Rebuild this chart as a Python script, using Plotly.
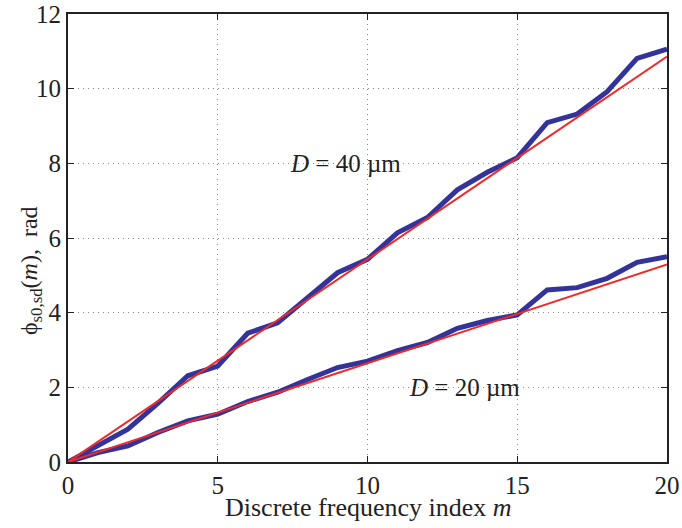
import plotly.graph_objects as go

m = list(range(21))
phi_40 = [0, 0.45, 0.88, 1.57, 2.31, 2.57, 3.45, 3.73, 4.38, 5.07, 5.43,
          6.14, 6.55, 7.29, 7.76, 8.15, 9.09, 9.32, 9.92, 10.81, 11.06]
phi_20 = [0, 0.25, 0.43, 0.79, 1.10, 1.28, 1.62, 1.87, 2.21, 2.53, 2.70,
          2.98, 3.20, 3.58, 3.79, 3.94, 4.61, 4.67, 4.92, 5.35, 5.50]
fit_m = [0, 20]
fit_40 = [0, 10.86]
fit_20 = [0, 5.29]

xticks = [0, 5, 10, 15, 20]
yticks = [0, 2, 4, 6, 8, 10, 12]

blue = "#333399"
red = "#ee2a2a"
font = "Liberation Serif, Times New Roman, serif"
ink = "#222"

fig = go.Figure()
for yv in (phi_40, phi_20):
    fig.add_trace(go.Scatter(x=m, y=yv, mode="lines",
                             line=dict(color=blue, width=5), showlegend=False))
for yv in (fit_40, fit_20):
    fig.add_trace(go.Scatter(x=fit_m, y=yv, mode="lines",
                             line=dict(color=red, width=2), showlegend=False))

fig.add_annotation(x=9.25, y=8.0, text="<i>D</i> = 40 µm", showarrow=False,
                   font=dict(family=font, size=25, color=ink))
fig.add_annotation(x=13.25, y=2.0, text="<i>D</i> = 20 µm", showarrow=False,
                   font=dict(family=font, size=25, color=ink))

# axis titles
fig.add_annotation(xref="paper", yref="paper", x=0.5017, y=-0.101,
                   xanchor="center", yanchor="middle", showarrow=False,
                   text="Discrete frequency index <i>m</i>",
                   font=dict(family=font, size=26, color=ink))
fig.add_annotation(xref="paper", yref="paper", x=-0.062, y=0.428,
                   xanchor="center", yanchor="middle", showarrow=False, textangle=-90,
                   text="ϕ<sub>s0,sd</sub>(<i>m</i>),  rad",
                   font=dict(family=font, size=24, color=ink))

axis_common = dict(showline=True, linecolor=ink, linewidth=2, mirror="ticks",
                   ticks="inside", ticklen=6, tickcolor=ink, automargin=False,
                   showgrid=True, gridcolor="#888", griddash="1px,4px", gridwidth=1,
                   zeroline=False, tickfont=dict(family=font, size=25, color=ink))

fig.update_xaxes(range=[0, 20], tickvals=xticks, **axis_common)
fig.update_yaxes(range=[0, 12], tickvals=yticks, **axis_common)

fig.update_layout(width=682, height=528, plot_bgcolor="white", paper_bgcolor="white",
                  margin=dict(l=68, r=15, t=14, b=66))

# remove the page's default body margin so the figure sits at the window origin
fig.write_html("out.html", config={"displayModeBar": False},
               post_script="document.body.style.margin='0';")
